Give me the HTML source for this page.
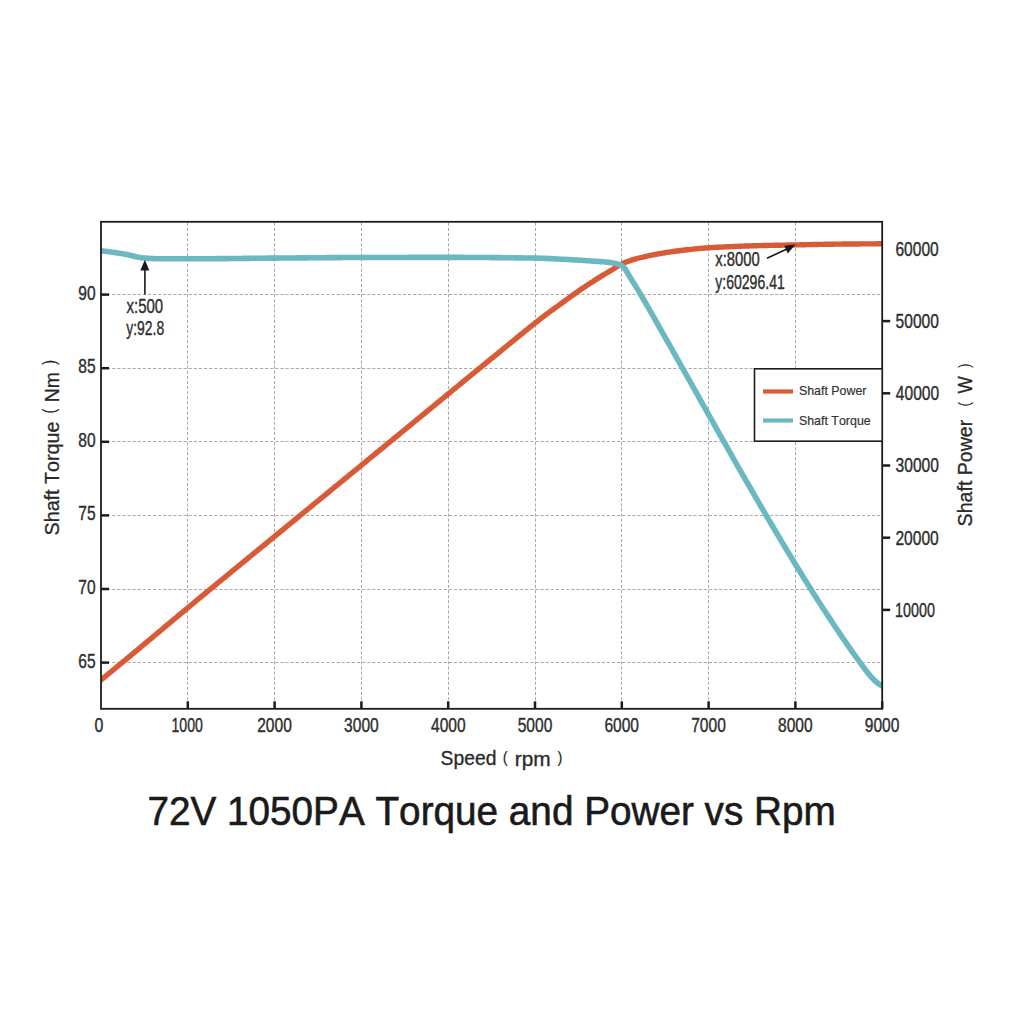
<!DOCTYPE html><html><head><meta charset="utf-8"><style>html,body{margin:0;padding:0;background:#fff;}svg{display:block;}text{font-family:"Liberation Sans",sans-serif;font-kerning:none;}</style></head><body>
<svg width="1024" height="1024" viewBox="0 0 1024 1024">
<rect width="1024" height="1024" fill="#fff"/>
<line x1="187.50" y1="222.8" x2="187.50" y2="707.8" stroke="#a8a8a8" stroke-width="1" stroke-dasharray="3.1,2"/>
<line x1="274.50" y1="222.8" x2="274.50" y2="707.8" stroke="#a8a8a8" stroke-width="1" stroke-dasharray="3.1,2"/>
<line x1="361.50" y1="222.8" x2="361.50" y2="707.8" stroke="#a8a8a8" stroke-width="1" stroke-dasharray="3.1,2"/>
<line x1="448.50" y1="222.8" x2="448.50" y2="707.8" stroke="#a8a8a8" stroke-width="1" stroke-dasharray="3.1,2"/>
<line x1="535.50" y1="222.8" x2="535.50" y2="707.8" stroke="#a8a8a8" stroke-width="1" stroke-dasharray="3.1,2"/>
<line x1="621.50" y1="222.8" x2="621.50" y2="707.8" stroke="#a8a8a8" stroke-width="1" stroke-dasharray="3.1,2"/>
<line x1="708.50" y1="222.8" x2="708.50" y2="707.8" stroke="#a8a8a8" stroke-width="1" stroke-dasharray="3.1,2"/>
<line x1="795.50" y1="222.8" x2="795.50" y2="707.8" stroke="#a8a8a8" stroke-width="1" stroke-dasharray="3.1,2"/>
<line x1="102.0" y1="662.50" x2="880.2" y2="662.50" stroke="#a8a8a8" stroke-width="1" stroke-dasharray="3.1,2"/>
<line x1="102.0" y1="589.50" x2="880.2" y2="589.50" stroke="#a8a8a8" stroke-width="1" stroke-dasharray="3.1,2"/>
<line x1="102.0" y1="515.50" x2="880.2" y2="515.50" stroke="#a8a8a8" stroke-width="1" stroke-dasharray="3.1,2"/>
<line x1="102.0" y1="441.50" x2="880.2" y2="441.50" stroke="#a8a8a8" stroke-width="1" stroke-dasharray="3.1,2"/>
<line x1="102.0" y1="368.50" x2="880.2" y2="368.50" stroke="#a8a8a8" stroke-width="1" stroke-dasharray="3.1,2"/>
<line x1="102.0" y1="294.50" x2="880.2" y2="294.50" stroke="#a8a8a8" stroke-width="1" stroke-dasharray="3.1,2"/>
<defs><clipPath id="pc"><rect x="101.0" y="221.8" width="781.20" height="487.00"/></clipPath></defs><g clip-path="url(#pc)">
<path d="M99.0,681.50 L101.0,679.90 L103.0,678.28 L105.0,676.65 L107.0,675.02 L109.0,673.39 L111.0,671.76 L113.0,670.12 L115.0,668.48 L117.0,666.83 L119.0,665.19 L121.0,663.54 L123.0,661.89 L125.0,660.23 L127.0,658.57 L129.0,656.92 L131.0,655.26 L133.0,653.59 L135.0,651.93 L137.0,650.27 L139.0,648.60 L141.0,646.93 L143.0,645.26 L145.0,643.59 L147.0,641.92 L149.0,640.25 L151.0,638.57 L153.0,636.90 L155.0,635.23 L157.0,633.55 L159.0,631.88 L161.0,630.20 L163.0,628.53 L165.0,626.85 L167.0,625.18 L169.0,623.51 L171.0,621.83 L173.0,620.16 L175.0,618.49 L177.0,616.82 L179.0,615.15 L181.0,613.48 L183.0,611.81 L185.0,610.14 L187.0,608.48 L189.0,606.81 L191.0,605.15 L193.0,603.49 L195.0,601.84 L197.0,600.18 L199.0,598.53 L201.0,596.87 L203.0,595.22 L205.0,593.57 L207.0,591.92 L209.0,590.28 L211.0,588.63 L213.0,586.98 L215.0,585.33 L217.0,583.69 L219.0,582.04 L221.0,580.40 L223.0,578.75 L225.0,577.11 L227.0,575.46 L229.0,573.82 L231.0,572.18 L233.0,570.53 L235.0,568.89 L237.0,567.25 L239.0,565.61 L241.0,563.97 L243.0,562.33 L245.0,560.69 L247.0,559.05 L249.0,557.41 L251.0,555.77 L253.0,554.13 L255.0,552.49 L257.0,550.85 L259.0,549.21 L261.0,547.57 L263.0,545.93 L265.0,544.29 L267.0,542.65 L269.0,541.01 L271.0,539.37 L273.0,537.74 L275.0,536.10 L277.0,534.46 L279.0,532.82 L281.0,531.18 L283.0,529.54 L285.0,527.90 L287.0,526.26 L289.0,524.62 L291.0,522.98 L293.0,521.34 L295.0,519.70 L297.0,518.06 L299.0,516.42 L301.0,514.78 L303.0,513.14 L305.0,511.50 L307.0,509.86 L309.0,508.22 L311.0,506.58 L313.0,504.94 L315.0,503.29 L317.0,501.65 L319.0,500.01 L321.0,498.37 L323.0,496.73 L325.0,495.09 L327.0,493.45 L329.0,491.81 L331.0,490.17 L333.0,488.53 L335.0,486.89 L337.0,485.25 L339.0,483.61 L341.0,481.97 L343.0,480.33 L345.0,478.69 L347.0,477.05 L349.0,475.41 L351.0,473.77 L353.0,472.13 L355.0,470.49 L357.0,468.85 L359.0,467.22 L361.0,465.58 L363.0,463.94 L365.0,462.30 L367.0,460.66 L369.0,459.02 L371.0,457.38 L373.0,455.74 L375.0,454.10 L377.0,452.46 L379.0,450.82 L381.0,449.18 L383.0,447.54 L385.0,445.90 L387.0,444.26 L389.0,442.62 L391.0,440.98 L393.0,439.34 L395.0,437.70 L397.0,436.06 L399.0,434.42 L401.0,432.78 L403.0,431.14 L405.0,429.50 L407.0,427.86 L409.0,426.21 L411.0,424.57 L413.0,422.93 L415.0,421.28 L417.0,419.64 L419.0,417.99 L421.0,416.35 L423.0,414.70 L425.0,413.06 L427.0,411.41 L429.0,409.77 L431.0,408.12 L433.0,406.48 L435.0,404.83 L437.0,403.18 L439.0,401.54 L441.0,399.89 L443.0,398.25 L445.0,396.60 L447.0,394.96 L449.0,393.31 L451.0,391.67 L453.0,390.02 L455.0,388.38 L457.0,386.74 L459.0,385.09 L461.0,383.45 L463.0,381.81 L465.0,380.17 L467.0,378.53 L469.0,376.89 L471.0,375.25 L473.0,373.61 L475.0,371.98 L477.0,370.34 L479.0,368.70 L481.0,367.07 L483.0,365.44 L485.0,363.80 L487.0,362.17 L489.0,360.54 L491.0,358.91 L493.0,357.29 L495.0,355.66 L497.0,354.04 L499.0,352.41 L501.0,350.79 L503.0,349.16 L505.0,347.53 L507.0,345.90 L509.0,344.26 L511.0,342.62 L513.0,340.98 L515.0,339.34 L517.0,337.71 L519.0,336.07 L521.0,334.44 L523.0,332.81 L525.0,331.19 L527.0,329.57 L529.0,327.96 L531.0,326.35 L533.0,324.76 L535.0,323.17 L537.0,321.59 L539.0,320.02 L541.0,318.47 L543.0,316.93 L545.0,315.40 L547.0,313.89 L549.0,312.40 L551.0,310.92 L553.0,309.46 L555.0,308.01 L557.0,306.57 L559.0,305.13 L561.0,303.69 L563.0,302.25 L565.0,300.80 L567.0,299.34 L569.0,297.88 L571.0,296.42 L573.0,294.96 L575.0,293.52 L577.0,292.09 L579.0,290.69 L581.0,289.32 L583.0,287.96 L585.0,286.63 L587.0,285.30 L589.0,283.99 L591.0,282.70 L593.0,281.41 L595.0,280.14 L597.0,278.88 L599.0,277.62 L601.0,276.38 L603.0,275.16 L605.0,273.96 L607.0,272.78 L609.0,271.59 L611.0,270.40 L613.0,269.19 L615.0,267.91 L617.0,266.64 L619.0,265.42 L621.0,264.35 L623.0,263.41 L625.0,262.56 L627.0,261.76 L629.0,261.02 L631.0,260.33 L633.0,259.68 L635.0,259.08 L637.0,258.52 L639.0,258.00 L641.0,257.50 L643.0,257.03 L645.0,256.57 L647.0,256.13 L649.0,255.71 L651.0,255.29 L653.0,254.89 L655.0,254.51 L657.0,254.14 L659.0,253.78 L661.0,253.43 L663.0,253.09 L665.0,252.76 L667.0,252.43 L669.0,252.12 L671.0,251.82 L673.0,251.52 L675.0,251.24 L677.0,250.98 L679.0,250.72 L681.0,250.48 L683.0,250.24 L685.0,250.01 L687.0,249.78 L689.0,249.56 L691.0,249.34 L693.0,249.13 L695.0,248.92 L697.0,248.73 L699.0,248.54 L701.0,248.37 L703.0,248.20 L705.0,248.04 L707.0,247.90 L709.0,247.77 L711.0,247.64 L713.0,247.52 L715.0,247.40 L717.0,247.29 L719.0,247.18 L721.0,247.08 L723.0,246.97 L725.0,246.87 L727.0,246.78 L729.0,246.68 L731.0,246.60 L733.0,246.51 L735.0,246.43 L737.0,246.35 L739.0,246.27 L741.0,246.20 L743.0,246.13 L745.0,246.06 L747.0,245.99 L749.0,245.93 L751.0,245.87 L753.0,245.81 L755.0,245.76 L757.0,245.70 L759.0,245.65 L761.0,245.60 L763.0,245.56 L765.0,245.51 L767.0,245.47 L769.0,245.42 L771.0,245.38 L773.0,245.34 L775.0,245.30 L777.0,245.26 L779.0,245.22 L781.0,245.18 L783.0,245.14 L785.0,245.10 L787.0,245.07 L789.0,245.03 L791.0,244.99 L793.0,244.95 L795.0,244.91 L797.0,244.87 L799.0,244.83 L801.0,244.79 L803.0,244.75 L805.0,244.71 L807.0,244.67 L809.0,244.62 L811.0,244.58 L813.0,244.54 L815.0,244.50 L817.0,244.46 L819.0,244.42 L821.0,244.38 L823.0,244.35 L825.0,244.31 L827.0,244.28 L829.0,244.24 L831.0,244.21 L833.0,244.18 L835.0,244.16 L837.0,244.13 L839.0,244.11 L841.0,244.09 L843.0,244.07 L845.0,244.05 L847.0,244.03 L849.0,244.01 L851.0,243.99 L853.0,243.98 L855.0,243.96 L857.0,243.94 L859.0,243.93 L861.0,243.91 L863.0,243.90 L865.0,243.88 L867.0,243.87 L869.0,243.86 L871.0,243.84 L873.0,243.83 L875.0,243.83 L877.0,243.82 L879.0,243.81 L881.0,243.81 L883.0,243.80 L884.0,243.80" fill="none" stroke="#d95a37" stroke-width="5.4" stroke-linejoin="round"/>
<path d="M99.0,250.60 L101.0,250.80 L103.0,251.03 L105.0,251.26 L107.0,251.51 L109.0,251.76 L111.0,252.02 L113.0,252.30 L115.0,252.58 L117.0,252.87 L119.0,253.17 L121.0,253.48 L123.0,253.80 L125.0,254.16 L127.0,254.58 L129.0,255.03 L131.0,255.52 L133.0,256.00 L135.0,256.48 L137.0,256.92 L139.0,257.32 L141.0,257.66 L143.0,257.91 L145.0,258.08 L147.0,258.23 L149.0,258.37 L151.0,258.50 L153.0,258.61 L155.0,258.70 L157.0,258.76 L159.0,258.80 L161.0,258.80 L163.0,258.80 L165.0,258.80 L167.0,258.80 L169.0,258.80 L171.0,258.80 L173.0,258.80 L175.0,258.80 L177.0,258.80 L179.0,258.80 L181.0,258.80 L183.0,258.80 L185.0,258.80 L187.0,258.80 L189.0,258.80 L191.0,258.80 L193.0,258.80 L195.0,258.79 L197.0,258.79 L199.0,258.78 L201.0,258.77 L203.0,258.76 L205.0,258.75 L207.0,258.74 L209.0,258.73 L211.0,258.71 L213.0,258.70 L215.0,258.68 L217.0,258.67 L219.0,258.65 L221.0,258.63 L223.0,258.61 L225.0,258.60 L227.0,258.58 L229.0,258.56 L231.0,258.54 L233.0,258.52 L235.0,258.50 L237.0,258.47 L239.0,258.45 L241.0,258.43 L243.0,258.41 L245.0,258.39 L247.0,258.37 L249.0,258.35 L251.0,258.32 L253.0,258.30 L255.0,258.28 L257.0,258.26 L259.0,258.24 L261.0,258.22 L263.0,258.20 L265.0,258.18 L267.0,258.17 L269.0,258.15 L271.0,258.13 L273.0,258.12 L275.0,258.10 L277.0,258.08 L279.0,258.07 L281.0,258.05 L283.0,258.04 L285.0,258.02 L287.0,258.00 L289.0,257.99 L291.0,257.97 L293.0,257.95 L295.0,257.94 L297.0,257.92 L299.0,257.90 L301.0,257.88 L303.0,257.87 L305.0,257.85 L307.0,257.83 L309.0,257.82 L311.0,257.80 L313.0,257.78 L315.0,257.77 L317.0,257.75 L319.0,257.73 L321.0,257.72 L323.0,257.70 L325.0,257.69 L327.0,257.67 L329.0,257.66 L331.0,257.64 L333.0,257.63 L335.0,257.62 L337.0,257.60 L339.0,257.59 L341.0,257.58 L343.0,257.57 L345.0,257.56 L347.0,257.55 L349.0,257.54 L351.0,257.53 L353.0,257.52 L355.0,257.52 L357.0,257.51 L359.0,257.50 L361.0,257.50 L363.0,257.50 L365.0,257.49 L367.0,257.49 L369.0,257.48 L371.0,257.48 L373.0,257.48 L375.0,257.47 L377.0,257.47 L379.0,257.47 L381.0,257.46 L383.0,257.46 L385.0,257.46 L387.0,257.45 L389.0,257.45 L391.0,257.45 L393.0,257.44 L395.0,257.44 L397.0,257.44 L399.0,257.44 L401.0,257.43 L403.0,257.43 L405.0,257.43 L407.0,257.43 L409.0,257.42 L411.0,257.42 L413.0,257.42 L415.0,257.42 L417.0,257.41 L419.0,257.41 L421.0,257.41 L423.0,257.41 L425.0,257.41 L427.0,257.41 L429.0,257.41 L431.0,257.40 L433.0,257.40 L435.0,257.40 L437.0,257.40 L439.0,257.40 L441.0,257.40 L443.0,257.40 L445.0,257.40 L447.0,257.40 L449.0,257.40 L451.0,257.40 L453.0,257.40 L455.0,257.41 L457.0,257.41 L459.0,257.41 L461.0,257.42 L463.0,257.42 L465.0,257.43 L467.0,257.44 L469.0,257.44 L471.0,257.45 L473.0,257.46 L475.0,257.47 L477.0,257.48 L479.0,257.50 L481.0,257.51 L483.0,257.52 L485.0,257.54 L487.0,257.55 L489.0,257.57 L491.0,257.58 L493.0,257.60 L495.0,257.62 L497.0,257.63 L499.0,257.65 L501.0,257.67 L503.0,257.69 L505.0,257.71 L507.0,257.73 L509.0,257.76 L511.0,257.78 L513.0,257.80 L515.0,257.83 L517.0,257.85 L519.0,257.88 L521.0,257.90 L523.0,257.93 L525.0,257.96 L527.0,257.98 L529.0,258.01 L531.0,258.04 L533.0,258.07 L535.0,258.10 L537.0,258.14 L539.0,258.18 L541.0,258.24 L543.0,258.31 L545.0,258.38 L547.0,258.47 L549.0,258.56 L551.0,258.65 L553.0,258.75 L555.0,258.86 L557.0,258.96 L559.0,259.08 L561.0,259.19 L563.0,259.30 L565.0,259.41 L567.0,259.52 L569.0,259.63 L571.0,259.74 L573.0,259.85 L575.0,259.96 L577.0,260.08 L579.0,260.20 L581.0,260.32 L583.0,260.45 L585.0,260.57 L587.0,260.70 L589.0,260.83 L591.0,260.96 L593.0,261.09 L595.0,261.21 L597.0,261.34 L599.0,261.47 L601.0,261.61 L603.0,261.77 L605.0,261.95 L607.0,262.16 L609.0,262.39 L611.0,262.66 L613.0,262.99 L615.0,263.38 L617.0,263.85 L619.0,264.52 L621.0,265.42 L623.0,266.60 L625.0,268.75 L627.0,271.99 L629.0,275.55 L631.0,278.76 L633.0,281.92 L635.0,285.12 L637.0,288.36 L639.0,291.64 L640.6,294.30 L642.0,296.77 L644.0,300.25 L646.0,303.73 L648.0,307.23 L650.0,310.72 L652.0,314.23 L654.0,317.73 L656.0,321.25 L658.0,324.76 L660.0,328.29 L662.0,331.81 L664.0,335.34 L666.0,338.88 L668.0,342.41 L670.0,345.95 L672.0,349.50 L674.0,353.04 L676.0,356.59 L678.0,360.14 L680.0,363.69 L682.0,367.25 L684.0,370.80 L686.0,374.36 L688.0,377.92 L690.0,381.48 L692.0,385.04 L694.0,388.60 L696.0,392.16 L698.0,395.72 L700.0,399.28 L702.0,402.84 L704.0,406.40 L706.0,409.95 L708.0,413.51 L710.0,417.06 L712.0,420.62 L714.0,424.17 L716.0,427.72 L718.0,431.27 L720.0,434.81 L722.0,438.35 L724.0,441.89 L726.0,445.42 L728.0,448.96 L730.0,452.48 L732.0,456.01 L734.0,459.53 L736.0,463.04 L738.0,466.55 L740.0,470.06 L742.0,473.56 L744.0,477.05 L746.0,480.54 L748.0,484.02 L750.0,487.50 L752.0,490.97 L754.0,494.43 L756.0,497.89 L758.0,501.34 L760.0,504.79 L762.0,508.22 L764.0,511.65 L766.0,515.07 L768.0,518.48 L770.0,521.88 L772.0,525.28 L774.0,528.66 L776.0,532.04 L778.0,535.41 L780.0,538.77 L782.0,542.11 L784.0,545.45 L786.0,548.78 L788.0,552.09 L790.0,555.40 L792.0,558.70 L794.0,561.98 L796.0,565.25 L798.0,568.51 L800.0,571.76 L802.0,575.00 L804.0,578.22 L806.0,581.44 L808.0,584.63 L810.0,587.82 L812.0,590.99 L814.0,594.15 L816.0,597.30 L818.0,600.43 L820.0,603.55 L822.0,606.65 L824.0,609.74 L826.0,612.81 L828.0,615.87 L830.0,618.91 L832.0,621.94 L834.0,624.95 L836.0,627.94 L838.0,630.92 L840.0,633.88 L842.0,636.82 L844.0,639.75 L846.0,642.66 L848.0,645.55 L850.0,648.42 L852.0,651.27 L854.0,654.10 L856.0,656.91 L858.0,659.70 L860.0,662.46 L862.0,665.21 L864.0,667.92 L866.0,670.56 L868.0,673.11 L870.0,675.53 L872.0,677.80 L874.0,679.89 L876.0,681.76 L878.0,683.39 L880.0,684.76 L882.0,685.82 L884.0,686.55" fill="none" stroke="#6cb8c2" stroke-width="5.6" stroke-linejoin="round"/>
</g>
<rect x="101.0" y="221.8" width="781.20" height="487.00" fill="none" stroke="#1c1c1c" stroke-width="1.8"/>
<line x1="187.80" y1="708.8" x2="187.80" y2="701.3" stroke="#1c1c1c" stroke-width="2.5"/>
<line x1="274.60" y1="708.8" x2="274.60" y2="701.3" stroke="#1c1c1c" stroke-width="2.5"/>
<line x1="361.40" y1="708.8" x2="361.40" y2="701.3" stroke="#1c1c1c" stroke-width="2.5"/>
<line x1="448.20" y1="708.8" x2="448.20" y2="701.3" stroke="#1c1c1c" stroke-width="2.5"/>
<line x1="535.00" y1="708.8" x2="535.00" y2="701.3" stroke="#1c1c1c" stroke-width="2.5"/>
<line x1="621.80" y1="708.8" x2="621.80" y2="701.3" stroke="#1c1c1c" stroke-width="2.5"/>
<line x1="708.60" y1="708.8" x2="708.60" y2="701.3" stroke="#1c1c1c" stroke-width="2.5"/>
<line x1="795.40" y1="708.8" x2="795.40" y2="701.3" stroke="#1c1c1c" stroke-width="2.5"/>
<line x1="882.20" y1="708.8" x2="882.20" y2="701.3" stroke="#1c1c1c" stroke-width="2.5"/>
<line x1="101.0" y1="662.60" x2="109.0" y2="662.60" stroke="#1c1c1c" stroke-width="2.5"/>
<line x1="101.0" y1="589.00" x2="109.0" y2="589.00" stroke="#1c1c1c" stroke-width="2.5"/>
<line x1="101.0" y1="515.40" x2="109.0" y2="515.40" stroke="#1c1c1c" stroke-width="2.5"/>
<line x1="101.0" y1="441.80" x2="109.0" y2="441.80" stroke="#1c1c1c" stroke-width="2.5"/>
<line x1="101.0" y1="368.20" x2="109.0" y2="368.20" stroke="#1c1c1c" stroke-width="2.5"/>
<line x1="101.0" y1="294.60" x2="109.0" y2="294.60" stroke="#1c1c1c" stroke-width="2.5"/>
<line x1="882.2" y1="609.90" x2="890.2" y2="609.90" stroke="#1c1c1c" stroke-width="2.5"/>
<line x1="882.2" y1="537.70" x2="890.2" y2="537.70" stroke="#1c1c1c" stroke-width="2.5"/>
<line x1="882.2" y1="465.50" x2="890.2" y2="465.50" stroke="#1c1c1c" stroke-width="2.5"/>
<line x1="882.2" y1="393.30" x2="890.2" y2="393.30" stroke="#1c1c1c" stroke-width="2.5"/>
<line x1="882.2" y1="321.10" x2="890.2" y2="321.10" stroke="#1c1c1c" stroke-width="2.5"/>
<text transform="translate(94.58,731.80) scale(0.7755,1)" font-size="20.5" fill="#2e2e2e" stroke="#2e2e2e" stroke-width="0.4">0</text>
<text transform="translate(171.52,731.80) scale(0.6891,1)" font-size="20.5" fill="#2e2e2e" stroke="#2e2e2e" stroke-width="0.4">1000</text>
<text transform="translate(257.18,731.80) scale(0.7600,1)" font-size="20.5" fill="#2e2e2e" stroke="#2e2e2e" stroke-width="0.4">2000</text>
<text transform="translate(344.08,731.80) scale(0.7600,1)" font-size="20.5" fill="#2e2e2e" stroke="#2e2e2e" stroke-width="0.4">3000</text>
<text transform="translate(431.00,731.80) scale(0.7600,1)" font-size="20.5" fill="#2e2e2e" stroke="#2e2e2e" stroke-width="0.4">4000</text>
<text transform="translate(517.66,731.80) scale(0.7600,1)" font-size="20.5" fill="#2e2e2e" stroke="#2e2e2e" stroke-width="0.4">5000</text>
<text transform="translate(604.38,731.80) scale(0.7600,1)" font-size="20.5" fill="#2e2e2e" stroke="#2e2e2e" stroke-width="0.4">6000</text>
<text transform="translate(691.18,731.80) scale(0.7600,1)" font-size="20.5" fill="#2e2e2e" stroke="#2e2e2e" stroke-width="0.4">7000</text>
<text transform="translate(778.04,731.80) scale(0.7600,1)" font-size="20.5" fill="#2e2e2e" stroke="#2e2e2e" stroke-width="0.4">8000</text>
<text transform="translate(864.81,731.80) scale(0.7600,1)" font-size="20.5" fill="#2e2e2e" stroke="#2e2e2e" stroke-width="0.4">9000</text>
<text transform="translate(78.32,667.50) scale(0.7600,1)" font-size="20.5" fill="#2e2e2e" stroke="#2e2e2e" stroke-width="0.4">65</text>
<text transform="translate(78.28,593.90) scale(0.7600,1)" font-size="20.5" fill="#2e2e2e" stroke="#2e2e2e" stroke-width="0.4">70</text>
<text transform="translate(78.32,520.30) scale(0.7600,1)" font-size="20.5" fill="#2e2e2e" stroke="#2e2e2e" stroke-width="0.4">75</text>
<text transform="translate(78.28,446.70) scale(0.7600,1)" font-size="20.5" fill="#2e2e2e" stroke="#2e2e2e" stroke-width="0.4">80</text>
<text transform="translate(78.32,373.10) scale(0.7600,1)" font-size="20.5" fill="#2e2e2e" stroke="#2e2e2e" stroke-width="0.4">85</text>
<text transform="translate(78.28,299.50) scale(0.7600,1)" font-size="20.5" fill="#2e2e2e" stroke="#2e2e2e" stroke-width="0.4">90</text>
<text transform="translate(895.11,616.70) scale(0.7009,1)" font-size="20.5" fill="#2e2e2e" stroke="#2e2e2e" stroke-width="0.4">10000</text>
<text transform="translate(895.42,544.50) scale(0.7600,1)" font-size="20.5" fill="#2e2e2e" stroke="#2e2e2e" stroke-width="0.4">20000</text>
<text transform="translate(895.61,472.30) scale(0.7600,1)" font-size="20.5" fill="#2e2e2e" stroke="#2e2e2e" stroke-width="0.4">30000</text>
<text transform="translate(895.84,400.10) scale(0.7600,1)" font-size="20.5" fill="#2e2e2e" stroke="#2e2e2e" stroke-width="0.4">40000</text>
<text transform="translate(895.58,327.90) scale(0.7600,1)" font-size="20.5" fill="#2e2e2e" stroke="#2e2e2e" stroke-width="0.4">50000</text>
<text transform="translate(895.41,255.70) scale(0.7600,1)" font-size="20.5" fill="#2e2e2e" stroke="#2e2e2e" stroke-width="0.4">60000</text>
<text transform="translate(126.53,312.60) scale(0.7309,1)" font-size="20.5" fill="#2e2e2e" stroke="#2e2e2e" stroke-width="0.4">x:500</text>
<text transform="translate(126.27,334.80) scale(0.6794,1)" font-size="20.5" fill="#2e2e2e" stroke="#2e2e2e" stroke-width="0.4">y:92.8</text>
<text transform="translate(715.33,266.10) scale(0.7221,1)" font-size="20.5" fill="#2e2e2e" stroke="#2e2e2e" stroke-width="0.4">x:8000</text>
<text transform="translate(715.27,288.50) scale(0.6853,1)" font-size="20.5" fill="#2e2e2e" stroke="#2e2e2e" stroke-width="0.4">y:60296.41</text>
<line x1="144.9" y1="294.4" x2="144.9" y2="268" stroke="#1a1a1a" stroke-width="1.6"/>
<path d="M144.9,259.7 L140.3,270.4 L149.3,270.4 Z" fill="#1a1a1a"/>
<line x1="767" y1="258.2" x2="787" y2="249" stroke="#1a1a1a" stroke-width="1.6"/>
<path d="M795.5,244.5 L784.2,245.8 L787.8,253.6 Z" fill="#1a1a1a"/>
<rect x="754.5" y="368.8" width="127.70" height="72.4" fill="#fff" stroke="#1c1c1c" stroke-width="1.6"/>
<line x1="763" y1="391.5" x2="793" y2="391.5" stroke="#d95a37" stroke-width="4.2"/>
<line x1="763" y1="420.5" x2="793" y2="420.5" stroke="#6cb8c2" stroke-width="4.2"/>
<text transform="translate(798.94,395.20) scale(0.9845,1)" font-size="12.6" fill="#333" stroke="#333" stroke-width="0.2">Shaft Power</text>
<text transform="translate(798.94,424.50) scale(0.9859,1)" font-size="12.6" fill="#333" stroke="#333" stroke-width="0.2">Shaft Torque</text>
<g transform="translate(58.9,534.6) rotate(-90)"><text transform="translate(-0.90,0.00) scale(1.0119,1)" font-size="19.5" fill="#2a2a2a" stroke="#2a2a2a" stroke-width="0.3">Shaft Torque</text><text transform="translate(121.21,-3.46) scale(0.8097,1)" font-size="17.7" fill="#2a2a2a" stroke="#2a2a2a" stroke-width="0.2">(</text><text transform="translate(132.31,0.00) scale(0.9949,1)" font-size="19.5" fill="#2a2a2a" stroke="#2a2a2a" stroke-width="0.3">Nm</text><text transform="translate(169.92,-3.46) scale(0.8097,1)" font-size="17.7" fill="#2a2a2a" stroke="#2a2a2a" stroke-width="0.2">)</text></g>
<g transform="translate(971.7,525.5) rotate(-90)"><text transform="translate(-0.89,0.00) scale(1.0046,1)" font-size="19.5" fill="#2a2a2a" stroke="#2a2a2a" stroke-width="0.3">Shaft Power</text><text transform="translate(132.12,0.00) scale(0.9368,1)" font-size="19.5" fill="#2a2a2a" stroke="#2a2a2a" stroke-width="0.3">W</text><text transform="translate(119.06,-2.20) scale(0.7987,1)" font-size="17" fill="#2a2a2a">(</text><text transform="translate(157.52,-2.20) scale(0.7987,1)" font-size="17" fill="#2a2a2a">)</text></g>
<text transform="translate(440.62,765.40) scale(0.9900,1)" font-size="19.5" fill="#2a2a2a" stroke="#2a2a2a" stroke-width="0.3">Speed</text><text transform="translate(502.69,762.50) scale(0.8552,1)" font-size="17.2" fill="#2a2a2a" stroke="#2a2a2a" stroke-width="0.2">(</text><text transform="translate(514.71,765.60) scale(1.0709,1)" font-size="19.5" fill="#2a2a2a" stroke="#2a2a2a" stroke-width="0.3">rpm</text><text transform="translate(557.41,762.50) scale(0.8552,1)" font-size="17.2" fill="#2a2a2a" stroke="#2a2a2a" stroke-width="0.2">)</text>
<text transform="translate(147.42,824.80) scale(0.9583,1)" font-size="40.4" fill="#1a1a1a" stroke="#1a1a1a" stroke-width="0.6">72V 1050PA Torque and Power vs Rpm</text>
</svg></body></html>
